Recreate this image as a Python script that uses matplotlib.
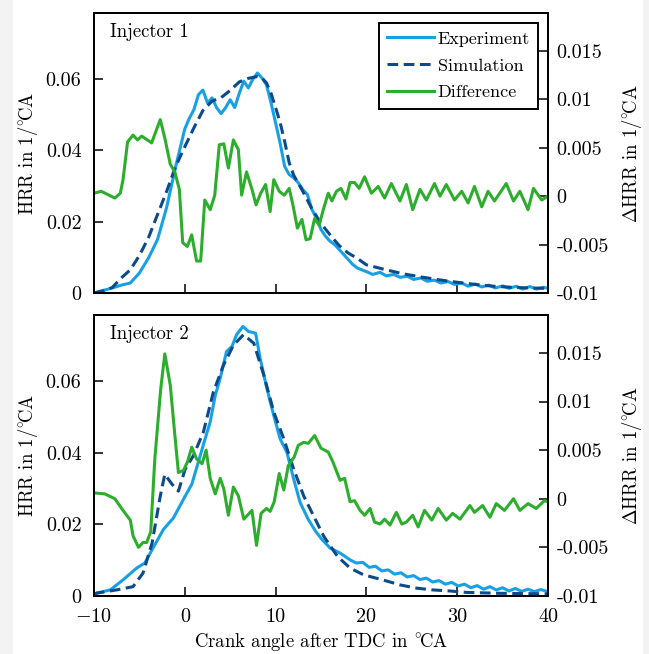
import matplotlib
matplotlib.use("Agg")
import matplotlib.pyplot as plt
from matplotlib.patches import Rectangle

plt.rcParams['font.family'] = ['cmr10', 'DejaVu Serif']
plt.rcParams['mathtext.fontset'] = 'cm'
plt.rcParams['font.size'] = 13
plt.rcParams['axes.formatter.use_mathtext'] = True

# Injector 1
exp1_x = [-10, -8, -7, -6, -5, -4, -3, -2, -1, 0, 0.5, 1, 1.5, 2, 2.5, 3, 3.5, 4, 4.5, 5,
          5.5, 6, 6.5, 7, 7.5, 8, 8.5, 9, 9.5, 10, 10.5, 11, 11.5, 12, 12.5, 13, 13.5, 14,
          14.5, 15, 15.5, 16, 16.5, 17, 17.5, 18, 18.5, 19, 19.5, 20, 20.7, 21.5, 22.2, 23,
          23.7, 24.5, 25.2, 26, 26.7, 27.5, 28.2, 29, 29.7, 30.5, 31.2, 32, 32.7, 33.5, 34.2,
          35, 35.7, 36.5, 37.2, 38, 38.7, 39.5, 40]
exp1_y = [0, 0.0014, 0.0022, 0.0028, 0.0056, 0.0098, 0.015, 0.024, 0.0355, 0.046, 0.049,
          0.0514, 0.0556, 0.0569, 0.0533, 0.0547, 0.052, 0.0503, 0.052, 0.0542, 0.052, 0.056,
          0.0594, 0.0575, 0.060, 0.0617, 0.0603, 0.0584, 0.0533, 0.0477, 0.042, 0.0355,
          0.0332, 0.0323, 0.0309, 0.029, 0.0276, 0.0234, 0.021, 0.0178, 0.0159, 0.0145,
          0.0136, 0.0122, 0.0108, 0.0094, 0.008, 0.007, 0.0065, 0.006, 0.0052, 0.0058,
          0.0048, 0.0052, 0.0044, 0.0047, 0.0038, 0.0042, 0.0033, 0.0036, 0.0028, 0.0032,
          0.0024, 0.0028, 0.0019, 0.0025, 0.0017, 0.0022, 0.0014, 0.002, 0.0013, 0.0019,
          0.0011, 0.0018, 0.0011, 0.0016, 0.0013]
sim1_x = [-10, -9, -8, -7, -6, -5, -4, -3, -2, -1, 0, 1, 2, 3, 4, 5, 6, 7, 8, 8.5, 9, 9.5,
          10, 10.5, 11, 11.5, 12, 13, 14, 15, 16, 17, 18, 19, 20, 22, 24, 26, 28, 30, 32,
          34, 36, 38, 40]
sim1_y = [0, 0.0006, 0.0015, 0.0042, 0.0065, 0.0105, 0.0155, 0.022, 0.0285, 0.0355, 0.041,
          0.0463, 0.0512, 0.0538, 0.0548, 0.0568, 0.0592, 0.0602, 0.0607, 0.0603, 0.0589,
          0.056, 0.052, 0.0478, 0.0425, 0.0365, 0.033, 0.0285, 0.0236, 0.0195, 0.0163,
          0.0133, 0.0112, 0.0097, 0.0079, 0.0066, 0.0054, 0.0045, 0.0037, 0.003, 0.0024,
          0.0019, 0.0016, 0.0014, 0.0013]
diff1_x = [-10, -9.2, -7.7, -7.1, -6.8, -6.3, -5.7, -5.2, -4.75, -3.65, -2.7, -2.2, -1.6,
           -1.1, -0.6, -0.23, 0.28, 0.76, 1.3, 1.75, 2.2, 2.8, 3.3, 3.8, 4.3, 4.8, 5.35, 5.9,
           6.26, 6.8, 7.4, 7.85, 8.36, 8.9, 9.4, 9.8, 10.4, 10.96, 11.5, 11.95, 12.4, 12.9,
           13.35, 13.8, 14.3, 14.8, 15.25, 15.8, 16.2, 16.7, 17.2, 17.75, 18.2, 18.7, 19.2,
           19.8, 20.55, 21.3, 22.0, 22.75, 23.7, 24.4, 25.1, 25.9, 26.6, 27.5, 28.1, 28.8,
           29.7, 30.5, 31.2, 31.9, 32.7, 33.4, 34.1, 35.4, 36.2, 36.9, 37.8, 38.4, 39.3, 40]
diff1_y = [0.0003, 0.0005, -0.0002, 0.0003, 0.0017, 0.0056, 0.0063, 0.0058, 0.0062, 0.0055,
           0.0079, 0.006, 0.0033, 0.0025, 0.0007, -0.0048, -0.0052, -0.004, -0.0067,
           -0.0067, -0.0004, -0.0014, 0.0001, 0.0053, 0.0054, 0.0029, 0.0058, 0.0048,
           0.0001, 0.0025, 0.0007, -0.0009, 0.0003, 0.0012, -0.0016, 0.0017, 0.0005, 0.0001,
           0.0008, -0.0011, -0.0033, -0.0024, -0.0045, -0.0044, -0.0023, -0.003, -0.0014,
           0.0003, -0.0005, 0.0005, 0.0008, -0.0003, 0.0014, 0.0014, 0.0008, 0.002, 0.0003,
           0.001, -0.0002, 0.0013, -0.0005, 0.0012, -0.0014, 0.0007, -0.0004, 0.0013, 0.0,
           0.0012, -0.0004, 0.0005, -0.0007, 0.001, -0.0011, 0.0005, -0.0005, 0.0013,
           -0.0005, 0.0005, -0.0014, 0.0008, -0.0004, 0.0]

# Injector 2
exp2_x = [-10, -9.7, -8.2, -6.8, -5.3, -4.4, -3.5, -2.35, -1.25, -0.15, 0.77, 1.7, 2.24, 2.8,
          3.35, 3.9, 4.6, 5.2, 5.7, 6.4, 7.0, 7.8, 8.3, 9.0, 9.8, 10.5, 11.25, 12.0, 12.7,
          13.6, 14.4, 15.1, 16.0, 17.1, 18.2, 18.9, 19.6, 20.3, 21.0, 21.7, 22.4, 23.1, 23.8,
          24.5, 25.2, 25.9, 26.6, 27.3, 28.0, 28.7, 29.4, 30.1, 30.8, 31.5, 32.2, 32.9, 33.6,
          34.3, 35.0, 35.7, 36.4, 37.1, 37.8, 38.5, 39.2, 40]
exp2_y = [0.0005, 0.0008, 0.0017, 0.0045, 0.0078, 0.0092, 0.0134, 0.0186, 0.0218, 0.027,
          0.0312, 0.0392, 0.0439, 0.0486, 0.056, 0.0608, 0.0683, 0.0697, 0.073, 0.0753,
          0.0739, 0.0734, 0.0664, 0.0584, 0.0504, 0.0439, 0.0401, 0.0326, 0.0261, 0.0214,
          0.0181, 0.0158, 0.0134, 0.012, 0.0101, 0.0092, 0.0094, 0.0080, 0.0083, 0.0070,
          0.0073, 0.0061, 0.0065, 0.0053, 0.0057, 0.0046, 0.0050, 0.0039, 0.0043, 0.0033,
          0.0038, 0.0028, 0.0033, 0.0023, 0.0029, 0.0019, 0.0026, 0.0017, 0.0023, 0.0014,
          0.0021, 0.0013, 0.0019, 0.0012, 0.0018, 0.0012]
sim2_x = [-10, -9.7, -7.5, -5.7, -4.6, -3.6, -2.7, -2.2, -1.4, -0.7, 0.04, 0.95, 2.05, 3.15,
          4.26, 5.37, 6.47, 7.6, 8.7, 9.8, 10.9, 12.0, 13.1, 14.2, 15.3, 16.8, 18.2, 19.7,
          21.8, 23.7, 25.5, 27.3, 29.2, 31, 34.7, 40]
sim2_y = [0.0005, 0.0008, 0.0017, 0.0026, 0.0064, 0.0148, 0.0279, 0.034, 0.0312, 0.0293,
          0.0354, 0.0392, 0.0458, 0.057, 0.0645, 0.0701, 0.073, 0.0706, 0.0617, 0.0514,
          0.0439, 0.0354, 0.0279, 0.0223, 0.0167, 0.0111, 0.0078, 0.0059, 0.0045, 0.0031,
          0.0022, 0.0017, 0.0014, 0.001, 0.00075, 0.0006]
diff2_x = [-10, -8.8, -7.7, -6.8, -6.0, -5.7, -5.1, -4.6, -4.2, -3.75, -3.3, -2.65, -2.2,
           -1.6, -1.06, -0.7, -0.15, 0.3, 0.77, 1.3, 1.9, 2.35, 2.8, 3.35, 3.9, 4.3, 4.8,
           5.35, 5.9, 6.5, 7.4, 7.9, 8.4, 9.0, 9.4, 9.85, 10.4, 10.9, 11.4, 12.05, 12.5,
           13.1, 13.6, 14.3, 15.0, 15.8, 16.3, 17.1, 17.6, 18.2, 18.7, 19.3, 19.8, 20.4,
           20.9, 21.5, 22.0, 22.6, 23.3, 23.9, 24.4, 25.1, 25.7, 26.4, 27.2, 27.9, 28.8,
           29.5, 30.3, 31.4, 31.9, 32.8, 33.6, 34.3, 35.2, 36.2, 36.9, 37.8, 38.7, 39.6, 40]
diff2_y = [0.0006, 0.0005, 0.0, -0.0012, -0.0022, -0.0038, -0.005, -0.0045, -0.0045,
           -0.0034, 0.0041, 0.0113, 0.0149, 0.0117, 0.0062, 0.0027, 0.0029, 0.0038, 0.0053,
           0.0041, 0.0036, 0.005, 0.0021, 0.0005, 0.0021, 0.001, -0.0017, 0.0012, 0.0003,
           -0.0021, -0.0012, -0.0048, -0.0015, -0.001, -0.0013, -0.0003, 0.0026, 0.0009,
           0.0034, 0.0043, 0.0055, 0.0058, 0.0057, 0.0065, 0.0052, 0.0048, 0.0038, 0.0019,
           0.0021, -0.0003, -0.0002, -0.0012, -0.0017, -0.001, -0.0024, -0.0026, -0.0021,
           -0.0027, -0.0014, -0.0026, -0.0024, -0.0017, -0.0029, -0.0012, -0.0022, -0.001,
           -0.0022, -0.0015, -0.0021, -0.0007, -0.0014, -0.0007, -0.0019, -0.0005, -0.0012,
           0.0, -0.0012, -0.0005, -0.001, -0.0002, -0.0003]

x_ticks = [-10, 0, 10, 20, 30, 40]
x_labels = ['$-10$', '0', '10', '20', '30', '40']
left_ticks = [0, 0.02, 0.04, 0.06]
left_labels = ['0', '0.02', '0.04', '0.06']
right_ticks = [-0.01, -0.005, 0, 0.005, 0.01, 0.015]
right_labels = ['-0.01', '-0.005', '0', '0.005', '0.01', '0.015']

c_exp = '#17a0e4'
c_sim = '#0b4a8b'
c_diff = '#2cae2c'

unit = '1/$^{\\circ}\\!$CA'

fig = plt.figure(figsize=(6.49, 6.54), dpi=100)
# light grey page edges seen in the screenshot
fig.patches.append(Rectangle((0, 0), 13 / 649, 1, transform=fig.transFigure,
                             facecolor='#f3f3f3', edgecolor='none', zorder=-1))
fig.patches.append(Rectangle((643 / 649, 0), 6 / 649, 1, transform=fig.transFigure,
                             facecolor='#f3f3f3', edgecolor='none', zorder=-1))

panels = [
    ([0.1448, 0.552, 0.6996, 0.428], 'Injector 1', exp1_x, exp1_y, sim1_x, sim1_y, diff1_x, diff1_y),
    ([0.1448, 0.0887, 0.6996, 0.4297], 'Injector 2', exp2_x, exp2_y, sim2_x, sim2_y, diff2_x, diff2_y),
]

for i, (rect, title, ex, ey, sx, sy, dx, dy) in enumerate(panels):
    ax = fig.add_axes(rect)
    ax2 = ax.twinx()
    l1, = ax.plot(ex, ey, color=c_exp, lw=2.2, label='Experiment')
    l2, = ax.plot(sx, sy, color=c_sim, lw=2.2, dashes=(3.5, 1.8), label='Simulation')
    l3, = ax2.plot(dx, dy, color=c_diff, lw=2.2, label='Difference')

    ax.set_xlim(-10, 40)
    ax.set_ylim(0, 0.0785)
    ax2.set_ylim(-0.01, 0.0189)

    ax.set_xticks(x_ticks)
    ax.set_yticks(left_ticks)
    ax.set_yticklabels(left_labels)
    ax2.set_yticks(right_ticks)
    ax2.set_yticklabels(right_labels)
    if i == 1:
        ax.set_xticklabels(x_labels)
        ax.set_xlabel('Crank angle after TDC in $^{\\circ}\\!$CA', labelpad=4, fontsize=13.5)
    else:
        ax.set_xticklabels([])

    ax.tick_params(axis='x', direction='in', length=6.5, width=1.1, pad=8.5, labelsize=14.5,
                   top=False)
    ax.tick_params(axis='y', direction='in', length=6.5, width=1.1, pad=9, labelsize=14.5,
                   right=False)
    ax2.tick_params(direction='in', length=6.5, width=1.1, pad=6, labelsize=14.5)
    for sp in list(ax.spines.values()) + list(ax2.spines.values()):
        sp.set_linewidth(1.4)

    ax.set_ylabel('HRR in ' + unit, labelpad=4, fontsize=13.5)
    ax2.set_ylabel('$\\Delta$HRR in ' + unit, labelpad=8, fontsize=13.5)
    ax.text(0.035, 0.965, title, transform=ax.transAxes, va='top', ha='left', fontsize=13.5)

    if i == 0:
        leg = ax2.legend(handles=[l1, l2, l3], loc='upper right', fancybox=False,
                         framealpha=1, edgecolor='black', handlelength=2.6,
                         handletextpad=0.2, borderaxespad=0.55, labelspacing=0.62,
                         borderpad=0.45)
        leg.get_frame().set_linewidth(1.4)

fig.savefig('out.png', dpi=100)
